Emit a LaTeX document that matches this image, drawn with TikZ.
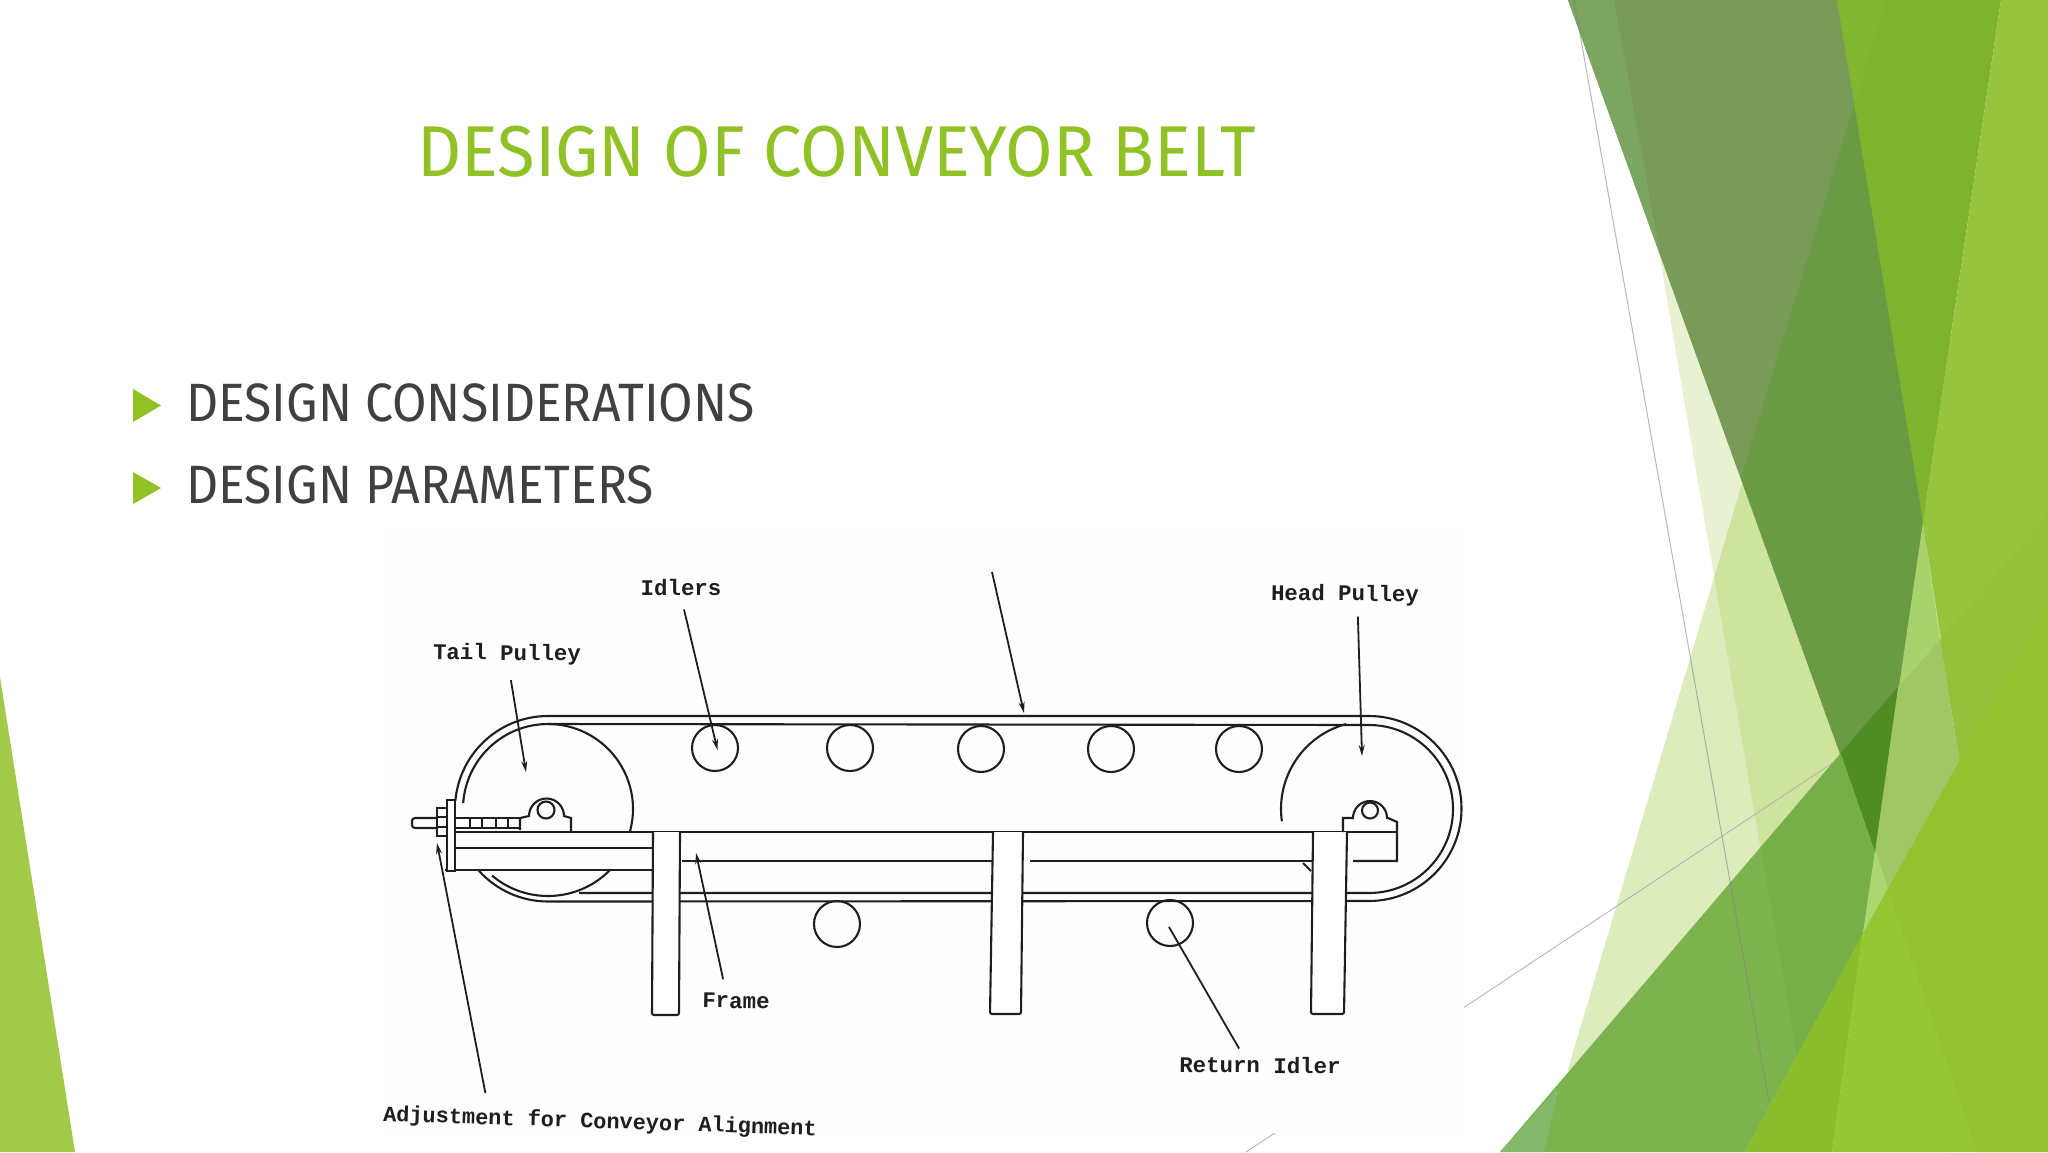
\documentclass[tikz,border=0pt]{standalone}
\usepackage{xcolor}
\usepackage{fontspec}
\setmainfont{Fira Sans}
\newfontfamily\titlefont[FakeStretch=0.955]{Fira Sans}
\newfontfamily\bodyfont[FakeStretch=0.925]{Fira Sans}
\setmonofont{Liberation Mono}
\usepackage{tikz}
\usetikzlibrary{positioning, arrows.meta}

\definecolor{facet}{HTML}{90C226}
\definecolor{bodytext}{HTML}{404040}
\definecolor{inkline}{HTML}{1E1E1E}

\tikzset{
    hex/.code={\definecolor{hexcolor}{HTML}{#1}\tikzset{color=hexcolor}},
    belt/.style={line width=2.1pt, draw=inkline},
    pointer/.style={-{Stealth[length=11pt, width=6pt]}, line width=1.8pt, draw=inkline},
    idler/.style={circle, draw=inkline, line width=2.1pt, inner sep=0pt, minimum size=46pt},
    partlabel/.style={font=\fontsize{22.4}{22.4}\ttfamily\bfseries, text=inkline, inner sep=0pt},
    bullettext/.style={font=\bodyfont\fontsize{54}{54}\selectfont, text=bodytext, inner sep=0pt, anchor=base west}
}

\begin{document}
\begin{tikzpicture}[x=1pt, y=-1pt]
    \useasboundingbox (0,0) rectangle (2048,1152);

    % Fundo do slide
    \fill[white] (0,0) rectangle (2048,1152);
    \fill[hex=A3C948] (0,677) -- (75,1152) -- (0,1152) -- cycle;

    % Facetas claras
    \fill[facet, opacity=0.2] (1616,0) -- (1812,1152) -- (1950,1152) -- (1950,0) -- cycle;
    \fill[facet, opacity=0.3] (1855,103) -- (1568,1069) -- (1600,1152) -- (1950,1152) -- (1950,103) -- cycle;

    % Faceta escura
    \fill[hex=789C57] (1568,0) -- (1860,0) -- (1930,522) -- (1875,851) -- cycle;
    \fill[hex=7DA562] (1568,0) -- (1614,0) -- (1660,255) -- cycle;
    \fill[hex=6B9A45] (1860,85) -- (1741,478) -- (1875,851) -- (1930,522) -- cycle;

    % Faceta verde inferior
    \draw[hex=B0B0B0, line width=0.8pt] (1246,1152) -- (1837,760);
    \fill[hex=7CB34F] (1500,1152) -- (1841,753) -- (1875,851) -- (1863,933) -- (1745,1152) -- cycle;
    \fill[hex=76AF48] (1761,848) -- (1841,753) -- (1875,851) -- (1863,933) -- (1797,1058) -- cycle;
    \fill[hex=84B86A] (1500,1152) -- (1559,1087) -- (1544,1152) -- cycle;
    \fill[hex=4F8C25] (1841,753) -- (1898,687) -- (1875,851) -- cycle;

    % Linha fina
    \draw[hex=808080, opacity=0.55, line width=1pt] (1574,0) -- (1769,1102);

    % Facetas da direita
    \fill[hex=7FB32E] (1837,0) -- (2001,0) -- (1923,522) -- cycle;
    \fill[hex=82B630] (1837,0) -- (1885,0) -- (1855,103) -- cycle;
    \fill[hex=96C43D] (2001,0) -- (2048,0) -- (2048,603) -- (1960,764) -- (1923,522) -- cycle;
    \fill[hex=93C139] (2048,514) -- (2048,603) -- (1960,764) -- (1940,640) -- cycle;
    \fill[hex=A8D26E] (1923,522) -- (1940,640) -- (1898,687) -- (1875,851) -- cycle;
    \fill[hex=9FC765] (1898,687) -- (1940,640) -- (1960,764) -- (1888,889) -- (1875,851) -- cycle;
    \fill[hex=ABD672] (1875,851) -- (1888,889) -- (1863,933) -- cycle;
    \fill[hex=4F8C25] (1841,753) -- (1898,687) -- (1875,851) -- cycle;
    \fill[hex=8ABC2B] (1745,1152) -- (1863,933) -- (1832,1152) -- cycle;
    \fill[hex=94C733] (1832,1152) -- (1863,933) -- (2048,603) -- (2048,1152) -- cycle;
    \fill[hex=92C32E] (1888,889) -- (1977,1152) -- (2048,1152) -- (2048,603) -- cycle;

    % Titulo e itens
    \node[inner sep=0pt, anchor=base west, text=facet, font=\titlefont\fontsize{72}{72}\selectfont] (title) at (417,176) {DESIGN OF CONVEYOR BELT};

    \fill[facet] (133,389) -- (161,405.5) -- (133,422) -- cycle;
    \node[bullettext] (considerations) at (186,421) {DESIGN CONSIDERATIONS};
    \fill[facet] (133,472) -- (161,488) -- (133,504) -- cycle;
    \node[bullettext] (parameters) at (186,503.5) {DESIGN PARAMETERS};

    % Figura digitalizada
    \fill[hex=FEFEFE] (385,525) rectangle (1464,1133);

    \coordinate (tailc) at (548,809);
    \coordinate (headc) at (1369,809);

    % Correia
    \draw[belt] (tailc) ++(175:93pt) arc[start angle=175, end angle=90, radius=93pt]
        -- (1369,716) arc[start angle=90, end angle=-90, radius=92.5pt]
        -- (548,901.5) arc[start angle=270, end angle=222, radius=93pt];
    \draw[belt] (tailc) ++(176:85pt) arc[start angle=176, end angle=90, radius=85pt]
        -- (1369,725) arc[start angle=90, end angle=-90, radius=84pt]
        -- (579,893);

    % Polias
    \draw[belt] (tailc) ++(-15:85pt) arc[start angle=-15, end angle=90, radius=85pt];
    \draw[belt] (tailc) ++(230:87pt) arc[start angle=230, end angle=315, radius=87pt];
    \draw[belt] (headc) ++(188:88pt) arc[start angle=188, end angle=105, radius=88pt];

    % Roletes
    \node[idler] (idlerA) at (715,748) {};
    \node[idler] (idlerB) at (850,748) {};
    \node[idler] (idlerC) at (981,749) {};
    \node[idler] (idlerD) at (1111,749) {};
    \node[idler] (idlerE) at (1239,749) {};
    \node[idler] (returnA) at (837,924) {};
    \node[idler] (returnB) at (1170,923) {};

    % Estrutura
    \draw[belt] (453,832) -- (1397,832);
    \draw[belt] (453,848) -- (652,848);
    \draw[belt] (445,870) -- (652,870);
    \draw[belt] (682,861) -- (992,861);
    \draw[belt] (1030,861) -- (1313,861);
    \draw[belt] (1353,861) -- (1397,861) -- (1397,822) -- (1388,818);
    \draw[belt] (1303,863) -- (1311,871);

    % Pernas
    \draw[belt, fill=white, rounded corners=2pt] (653,832) -- (652,1015) -- (679,1015) -- (680,832);
    \draw[belt, fill=white, rounded corners=2pt] (993,832) -- (990,1014) -- (1021,1014) -- (1023,832);
    \draw[belt, fill=white, rounded corners=2pt] (1313,832) -- (1311,1014) -- (1344,1014) -- (1347,832);

    % Mancal da polia de cabeca
    \draw[belt] (1343,832) -- (1343,818) -- (1353,818) arc[start angle=180, end angle=0, radius=17pt] -- (1388,818);
    \draw[belt] (1370,810.5) circle[radius=8pt];

    % Mancal da polia de cauda
    \draw[belt] (520,830) -- (520,818) -- (529,816) arc[start angle=180, end angle=0, radius=17.5pt] -- (571,818) -- (571,832);
    \draw[belt] (546,810) circle[radius=8.5pt];

    % Parafuso de ajuste
    \draw[belt, fill=white, rounded corners=3pt] (447,818) -- (412,818) -- (412,828) -- (447,828);
    \draw[belt] (455,818) -- (520,818);
    \draw[belt] (455,828) -- (520,828);
    \draw[belt] (470,818) -- (470,828);
    \draw[belt] (482,818) -- (482,828);
    \draw[belt] (496,818) -- (496,828);
    \draw[belt] (508,818) -- (508,828);
    \draw[belt, fill=white] (437,808) rectangle (447,836);
    \draw[belt] (437,817) -- (447,817);
    \draw[belt] (437,827) -- (447,827);
    \draw[belt, fill=white] (447,800) rectangle (455,871);

    % Rotulos
    \node[partlabel, rotate=-0.6] (tail) at (507,654.5) {Tail Pulley};
    \node[partlabel] (idlers) at (681,587) {Idlers};
    \node[partlabel, rotate=-0.6] (head) at (1345,595) {Head Pulley};
    \node[partlabel, rotate=-1] (frame) at (736,1001) {Frame};
    \node[partlabel, rotate=-0.6] (returnidler) at (1260,1065) {Return Idler};
    \node[partlabel, font=\fontsize{21.9}{21.9}\ttfamily\bfseries, rotate=-1.9] (adjust) at (600,1122.5) {Adjustment for Conveyor Alignment};

    % Setas
    \coordinate (tailtip) at (526,772);
    \coordinate (idlertip) at (717.5,750);
    \coordinate (headtip) at (1362,756);
    \coordinate (frametip) at (696,853);
    \coordinate (returntip) at (1169,927);
    \coordinate (adjusttip) at (437,843);
    \coordinate (beltfrom) at (992,572);
    \coordinate (belttip) at (1024,713);

    \draw[pointer] ([xshift=4pt, yshift=-15pt]tail.south) -- (tailtip);
    \draw[pointer] ([xshift=3pt, yshift=-14pt]idlers.south) -- (idlertip);
    \draw[pointer] ([xshift=13pt, yshift=-11pt]head.south) -- (headtip);
    \draw[pointer] ([xshift=-13pt, yshift=14pt]frame.north) -- (frametip);
    \draw[line width=1.8pt, draw=inkline] ([xshift=-21pt, yshift=8pt]returnidler.north) -- (returntip);
    \draw[pointer] ([xshift=-115pt, yshift=19pt]adjust.north) -- (adjusttip);
    \draw[pointer] (beltfrom) -- (belttip);

\end{tikzpicture}
\end{document}
